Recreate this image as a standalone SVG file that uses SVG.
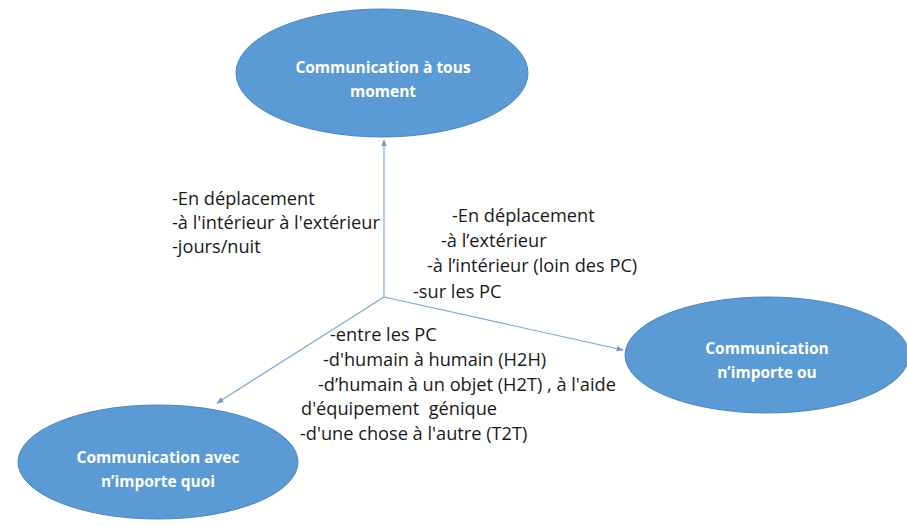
<svg xmlns="http://www.w3.org/2000/svg" width="907" height="527" viewBox="0 0 907 527">
  <style>
    .node { fill: #5b9bd5; stroke: #4a86c0; stroke-width: 1; }
    .ntext { font-family: "Open Sans", "Liberation Sans", sans-serif; font-weight: bold; font-size: 15.5px; fill: #ffffff; text-anchor: middle; }
    .label { font-family: "Open Sans", "Liberation Sans", sans-serif; font-size: 18.2px; fill: #1a1a1a; }
    .edge { stroke: #7ea9d6; stroke-width: 1.2; fill: none; marker-end: url(#arrow); }
  </style>
  <defs>
    <marker id="arrow" viewBox="0 0 10 10" refX="9" refY="5" markerWidth="7" markerHeight="7" orient="auto" markerUnits="userSpaceOnUse">
      <path d="M0,1 L10,5 L0,9 z" fill="#6b9bd0"/>
    </marker>
  </defs>
  <rect width="907" height="527" fill="#ffffff"/>

  <g id="connectors">
    <line class="edge" x1="384" y1="297" x2="384" y2="140"/>
    <line class="edge" x1="384" y1="297" x2="623" y2="350"/>
    <line class="edge" x1="384" y1="297" x2="217" y2="403"/>
  </g>

  <g id="node-tous-moment">
    <ellipse class="node" cx="382" cy="73" rx="146" ry="64"/>
    <text class="ntext" x="383" y="73">Communication à tous</text>
    <text class="ntext" x="383" y="97">moment</text>
  </g>

  <g id="node-importe-ou">
    <ellipse class="node" cx="767" cy="355" rx="142" ry="58"/>
    <text class="ntext" x="767" y="354">Communication</text>
    <text class="ntext" x="767" y="378">n’importe ou</text>
  </g>

  <g id="node-importe-quoi">
    <ellipse class="node" cx="158" cy="462" rx="140" ry="57"/>
    <text class="ntext" x="158" y="463">Communication avec</text>
    <text class="ntext" x="158" y="487">n’importe quoi</text>
  </g>

  <g id="labels">
    <text class="label" x="172" y="205">-En déplacement</text>
    <text class="label" x="172" y="229">-à l'intérieur à l'extérieur</text>
    <text class="label" x="172" y="253">-jours/nuit</text>

    <text class="label" x="452" y="222">-En déplacement</text>
    <text class="label" x="441" y="247">-à l’extérieur</text>
    <text class="label" x="427" y="272">-à l’intérieur (loin des PC)</text>
    <text class="label" x="413" y="298">-sur les PC</text>

    <text class="label" x="330" y="341">-entre les PC</text>
    <text class="label" x="323" y="366">-d'humain à humain (H2H)</text>
    <text class="label" x="318" y="391">-d’humain à un objet (H2T) , à l'aide</text>
    <text class="label" x="301" y="415" xml:space="preserve">d'équipement  génique</text>
    <text class="label" x="300" y="440">-d'une chose à l'autre (T2T)</text>
  </g>
</svg>
